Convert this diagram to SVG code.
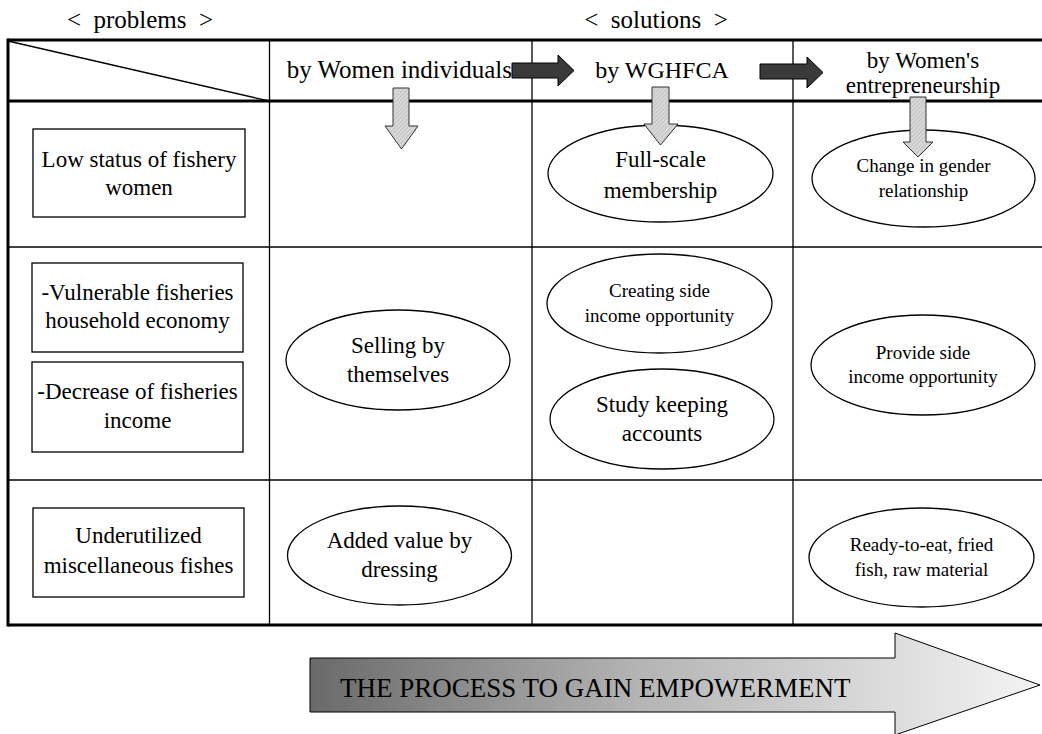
<svg xmlns="http://www.w3.org/2000/svg" width="1042" height="734" viewBox="0 0 1042 734" font-family="'Liberation Serif', 'Times New Roman', serif">
<defs>
<linearGradient id="grad" x1="0" y1="0" x2="1" y2="0">
<stop offset="0" stop-color="#6a6a6a"/>
<stop offset="0.45" stop-color="#b4b4b4"/>
<stop offset="1" stop-color="#f4f4f4"/>
</linearGradient>
<pattern id="hatch" width="3" height="3" patternUnits="userSpaceOnUse" patternTransform="rotate(45)">
<rect width="3" height="3" fill="#d8d8d8"/>
<line x1="0" y1="0" x2="0" y2="3" stroke="#b0b0b0" stroke-width="1"/>
</pattern>
</defs>
<style>
text{font-family:"Liberation Serif","Times New Roman",serif;fill:#000;text-anchor:middle}
.ttl{font-size:25px}
.hdr{font-size:24px}
.lbl{font-size:23px}
.sm{font-size:19px}
.thick{stroke:#000;stroke-width:3;fill:none}
.thin{stroke:#000;stroke-width:1.3;fill:none}
.box{fill:#fff;stroke:#000;stroke-width:1.3}
.ell{fill:#fff;stroke:#000;stroke-width:1.3}
.dark{fill:#3a3a3a;stroke:#000;stroke-width:1}
.gray{fill:url(#hatch);stroke:#333;stroke-width:1}
</style>
<rect width="1042" height="734" fill="#fff"/>

<g id="titles">
<text class="ttl" x="140" y="28" xml:space="preserve">&lt;  problems  &gt;</text>
<text class="ttl" x="656" y="28" xml:space="preserve">&lt;  solutions  &gt;</text>
</g>

<g id="table">
<line class="thin" x1="269.5" y1="40" x2="269.5" y2="625"/>
<line class="thin" x1="532" y1="40" x2="532" y2="625"/>
<line class="thin" x1="793" y1="40" x2="793" y2="625"/>
<line class="thin" x1="8" y1="247" x2="1042" y2="247"/>
<line class="thin" x1="8" y1="480" x2="1042" y2="480"/>
<line class="thin" x1="8" y1="41" x2="269" y2="101"/>
<line class="thick" x1="8" y1="40" x2="1042" y2="40"/>
<line class="thick" x1="8" y1="101" x2="1042" y2="101"/>
<line class="thick" x1="8" y1="625" x2="1042" y2="625"/>
<line class="thick" x1="8" y1="38.5" x2="8" y2="626.5"/>
</g>

<g id="col-headers">
<text class="hdr" x="512" y="78" style="text-anchor:end;font-size:25px">by Women individuals</text>
<text class="hdr" x="662" y="78">by WGHFCA</text>
<text class="hdr" x="923" y="68" style="font-size:23px">by Women's</text>
<text class="hdr" x="923" y="93" style="font-size:23px">entrepreneurship</text>
</g>

<g id="p-low-status">
<rect class="box" x="33" y="129" width="212" height="88"/>
<text class="lbl" x="139" y="167">Low status of fishery</text>
<text class="lbl" x="139" y="195">women</text>
</g>
<g id="p-vulnerable">
<rect class="box" x="32" y="263" width="211" height="89"/>
<text class="lbl" x="137.5" y="300">-Vulnerable fisheries</text>
<text class="lbl" x="137.5" y="328">household economy</text>
</g>
<g id="p-decrease">
<rect class="box" x="32" y="362" width="211" height="90"/>
<text class="lbl" x="137.5" y="399">-Decrease of fisheries</text>
<text class="lbl" x="137.5" y="428">income</text>
</g>
<g id="p-underutilized">
<rect class="box" x="33" y="508" width="211" height="89"/>
<text class="lbl" x="138.5" y="543">Underutilized</text>
<text class="lbl" x="138.5" y="573">miscellaneous fishes</text>
</g>

<g id="s-selling">
<ellipse class="ell" cx="398" cy="360" rx="112" ry="50"/>
<text class="lbl" x="398" y="353">Selling by</text>
<text class="lbl" x="398" y="382">themselves</text>
</g>
<g id="s-added-value">
<ellipse class="ell" cx="399.5" cy="555.5" rx="112" ry="49.5"/>
<text class="lbl" x="399.5" y="548">Added value by</text>
<text class="lbl" x="399.5" y="577">dressing</text>
</g>
<g id="s-full-scale">
<ellipse class="ell" cx="660.5" cy="173.5" rx="112.5" ry="48.5"/>
<text class="lbl" x="660.5" y="167">Full-scale</text>
<text class="lbl" x="660.5" y="198">membership</text>
</g>
<g id="s-creating">
<ellipse class="ell" cx="659.5" cy="303.5" rx="112.5" ry="49.5"/>
<text class="sm" x="659.5" y="297">Creating side</text>
<text class="sm" x="659.5" y="322">income opportunity</text>
</g>
<g id="s-study">
<ellipse class="ell" cx="662" cy="419" rx="112" ry="50"/>
<text class="lbl" x="662" y="412">Study keeping</text>
<text class="lbl" x="662" y="441">accounts</text>
</g>
<g id="s-change-gender">
<ellipse class="ell" cx="923.5" cy="178.5" rx="111.5" ry="48.5"/>
<text class="sm" x="923.5" y="172">Change in gender</text>
<text class="sm" x="923.5" y="197">relationship</text>
</g>
<g id="s-provide">
<ellipse class="ell" cx="923" cy="365" rx="112" ry="50"/>
<text class="sm" x="923" y="359">Provide side</text>
<text class="sm" x="923" y="383">income opportunity</text>
</g>
<g id="s-ready">
<ellipse class="ell" cx="921.5" cy="557.5" rx="112.5" ry="49.5"/>
<text class="sm" x="921.5" y="551">Ready-to-eat, fried</text>
<text class="sm" x="921.5" y="576">fish, raw material</text>
</g>

<g id="connectors">
<polygon class="dark" points="512,63 558,63 558,55 574,70.5 558,86 558,78 512,78"/>
<polygon class="dark" points="760,64 807,64 807,57 823,72.5 807,88 807,79 760,79"/>
<polygon class="gray" points="393,88 409,88 409,126 418,126 401.5,149 385,126 393,126"/>
<polygon class="gray" points="652,87 669,87 669,124 678,124 660.5,145 644,124 652,124"/>
<polygon class="gray" points="910,97 926,97 926,142 933,142 918,157 903,142 910,142"/>
</g>

<g id="process-arrow">
<polygon points="310,658 895,658 895,633 1040,685 895,735 895,712 310,712" fill="url(#grad)" stroke="#000" stroke-width="1"/>
<text x="340" y="697" style="font-size:27px;text-anchor:start">THE PROCESS TO GAIN EMPOWERMENT</text>
</g>
</svg>
